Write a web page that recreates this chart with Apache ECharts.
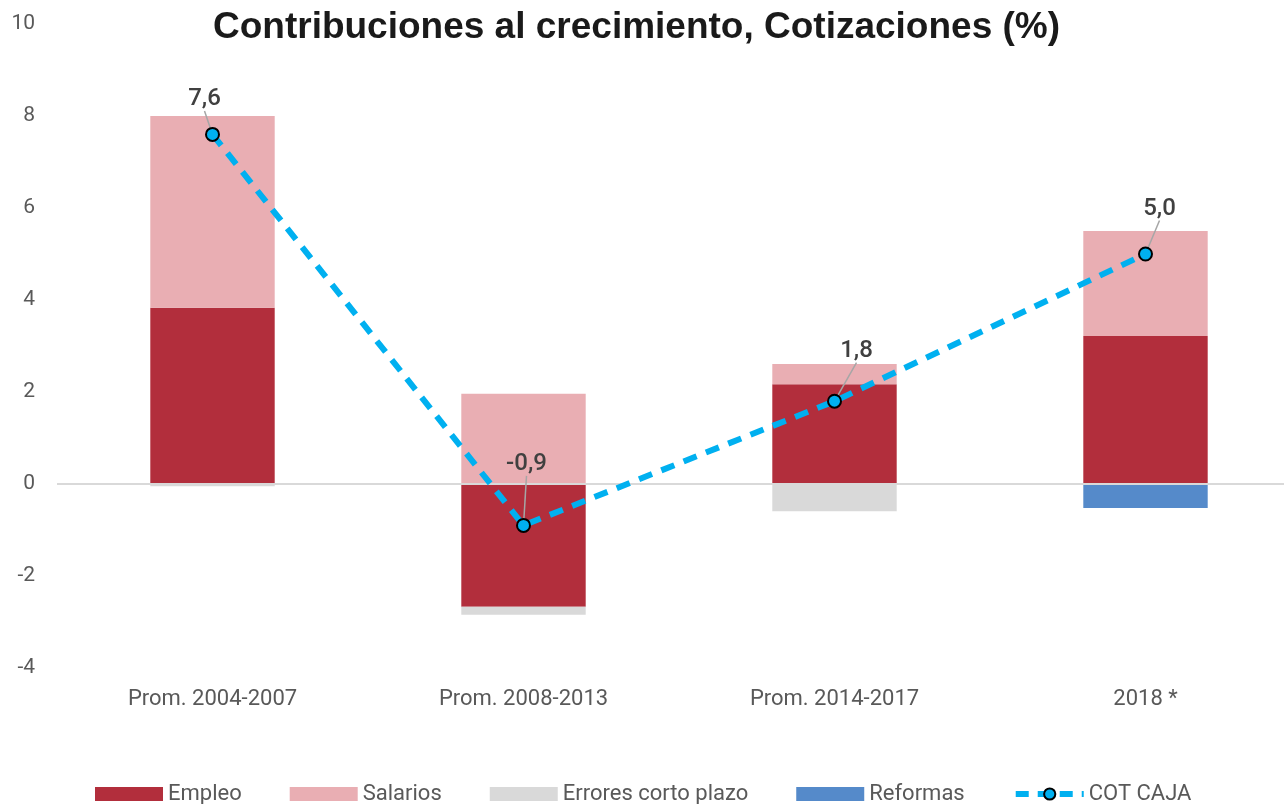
<!DOCTYPE html>
<html>
<head>
<meta charset="utf-8">
<script src="https://cdn.jsdelivr.net/npm/echarts@6/dist/echarts.min.js"></script>
<style>
  html, body { margin: 0; padding: 0; background: #fff; }
  #chart { width: 1284px; height: 804px; }
</style>
</head>
<body>
<div id="chart"></div>
<script>
var categories = ['Prom. 2004-2007', 'Prom. 2008-2013', 'Prom. 2014-2017', '2018 *'];
var empleo = [3.83, -2.67, 2.17, 3.22];
var salarios = [4.17, 1.96, 0.44, 2.28];
var errores = [-0.05, -0.17, -0.59, 0];
var reformas = [0, 0, 0, -0.52];
var cotCaja = [7.6, -0.9, 1.8, 5.0];
var yTicks = [-4, -2, 0, 2, 4, 6, 8, 10];

var chart = echarts.init(document.getElementById('chart'));

// desplazamiento de las etiquetas respecto al punto
var labelShift = [[-8, -11], [3, -37], [22, -26], [14, -21]];

function barSeries(name, data, color) {
  return {
    name: name,
    type: 'bar',
    stack: 'total',
    barWidth: '40%',
    data: data,
    itemStyle: { color: color },
    emphasis: { disabled: true }
  };
}

var option = {
  animation: false,
  title: {
    text: 'Contribuciones al crecimiento, Cotizaciones (%)',
    left: 208,
    top: 4,
    textStyle: {
      fontFamily: 'Liberation Sans',
      fontWeight: 'bold',
      fontSize: 37,
      color: '#1a1a1a'
    }
  },
  grid: { left: 57, width: 1244, top: 24, bottom: 136, outerBoundsMode: 'none', containLabel: false },
  legend: {
    top: 778,
    left: 90,
    itemWidth: 68,
    itemHeight: 14,
    itemGap: 48,
    textStyle: { fontFamily: 'Roboto', fontSize: 22, color: '#595959' },
    data: [
      { name: 'Empleo', icon: 'rect' },
      { name: 'Salarios', icon: 'rect' },
      { name: 'Errores corto plazo', icon: 'rect' },
      { name: 'Reformas', icon: 'rect' },
      { name: 'COT CAJA', lineStyle: { width: 6, type: [13, 9] } }
    ]
  },
  xAxis: {
    type: 'category',
    data: categories,
    axisLine: { show: false },
    axisTick: { show: false },
    axisLabel: { fontFamily: 'Roboto', fontSize: 22, color: '#595959', margin: 20 }
  },
  yAxis: {
    type: 'value',
    min: yTicks[0],
    max: yTicks[yTicks.length - 1],
    interval: 2,
    splitLine: { show: false },
    axisLabel: { fontFamily: 'Roboto', fontSize: 21, color: '#595959', margin: 22 }
  },
  series: [
    barSeries('Empleo', empleo, '#B22E3C'),
    barSeries('Salarios', salarios, '#E9AEB3'),
    barSeries('Errores corto plazo', errores, '#D9D9D9'),
    Object.assign(barSeries('Reformas', reformas, '#558ACA'), {
      markLine: {
        silent: true,
        symbol: 'none',
        label: { show: false },
        lineStyle: { color: '#D9D9D9', type: 'solid', width: 2 },
        data: [{ yAxis: 0 }]
      }
    }),
    {
      name: 'COT CAJA',
      type: 'line',
      data: cotCaja,
      z: 5,
      symbol: 'circle',
      symbolSize: 13,
      itemStyle: { color: '#00B0F0', borderColor: '#000', borderWidth: 2 },
      lineStyle: { color: '#00B0F0', width: 6, type: [14, 10] },
      label: {
        show: true,
        position: 'top',
        distance: 5,
        fontFamily: 'Roboto',
        fontWeight: 500,
        fontSize: 24,
        color: '#404040',
        formatter: function (p) { return p.value.toFixed(1).replace('.', ','); }
      },
      labelLine: { show: true, lineStyle: { color: '#A6A6A6', width: 1.5 } },
      labelLayout: function (p) {
        var s = labelShift[p.dataIndex];
        return { dx: s[0], dy: s[1] };
      }
    }
  ]
};

chart.setOption(option);
</script>
</body>
</html>
